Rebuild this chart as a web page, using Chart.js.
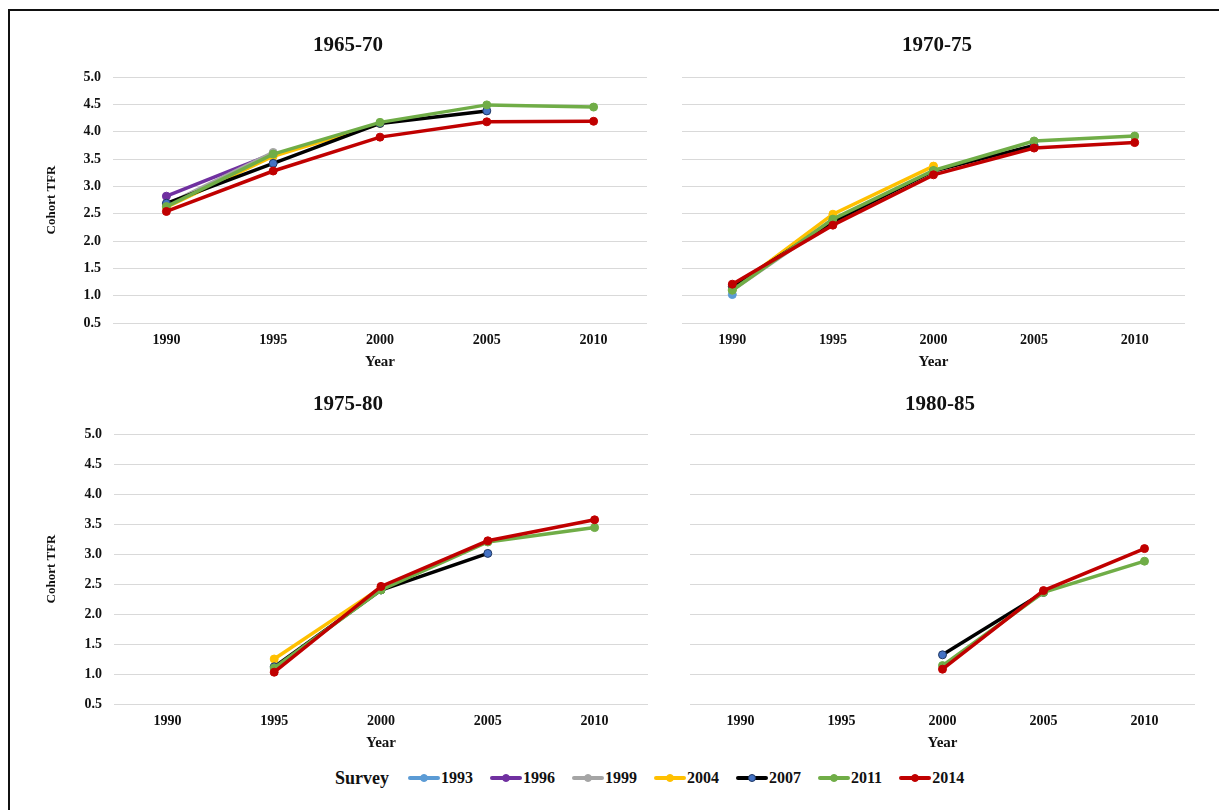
<!DOCTYPE html>
<html>
<head>
<meta charset="utf-8">
<script src="https://cdn.jsdelivr.net/npm/chart.js@4.4.1/dist/chart.umd.min.js"></script>
<style>
html,body{margin:0;padding:0;background:#fff;width:1219px;height:810px;overflow:hidden;font-family:"Liberation Serif","Times New Roman",serif;}
#frame{position:absolute;left:8px;top:9px;width:1400px;height:1000px;border:2px solid #111;box-sizing:border-box;}
.panel{position:absolute;}
#legend{position:absolute;left:335px;top:766px;height:24px;display:flex;align-items:center;font-weight:bold;color:#111;white-space:nowrap;}
#legend .ttl{font-size:18px;margin-right:19px;}
#legend .item{display:flex;align-items:center;margin-right:17px;font-size:16px;}
#legend .ln{position:relative;width:32px;height:4px;border-radius:2px;margin-right:1px;}
#legend .dot{position:absolute;left:12px;top:-2px;width:8px;height:8px;border-radius:50%;box-sizing:border-box;}
</style>
</head>
<body>
<div id="frame"></div>
<canvas id="c1" class="panel" width="624" height="353" style="left:36px;top:22px"></canvas>
<canvas id="c2" class="panel" width="526" height="353" style="left:674px;top:22px"></canvas>
<canvas id="c3" class="panel" width="624" height="377" style="left:36px;top:379px"></canvas>
<canvas id="c4" class="panel" width="530" height="377" style="left:675px;top:379px"></canvas>
<div id="legend"></div>
<script>
// ---------- data ----------
const years = ['1990', '1995', '2000', '2005', '2010'];
const surveys = ['1993', '1996', '1999', '2004', '2007', '2011', '2014'];
const yTicks = [0.5, 1.0, 1.5, 2.0, 2.5, 3.0, 3.5, 4.0, 4.5, 5.0];

// values per survey, in the order of `surveys` (null = no value)
const cohort1965_70 = [
  [2.66, null, null, null, null],
  [2.82, 3.60, null, null, null],
  [2.66, 3.62, null, null, null],
  [2.62, 3.55, 4.15, null, null],
  [2.69, 3.42, 4.15, 4.38, null],
  [2.63, 3.59, 4.17, 4.49, 4.45],
  [2.54, 3.28, 3.90, 4.18, 4.19]
];
const cohort1970_75 = [
  [1.02, null, null, null, null],
  [1.12, 2.38, null, null, null],
  [1.10, 2.37, null, null, null],
  [1.12, 2.49, 3.37, null, null],
  [1.17, 2.35, 3.28, 3.75, null],
  [1.10, 2.40, 3.29, 3.83, 3.92],
  [1.21, 2.29, 3.21, 3.70, 3.80]
];
const cohort1975_80 = [
  [null, null, null, null, null],
  [null, null, null, null, null],
  [null, null, null, null, null],
  [null, 1.25, 2.44, null, null],
  [null, 1.12, 2.40, 3.01, null],
  [null, 1.10, 2.40, 3.20, 3.44],
  [null, 1.03, 2.46, 3.22, 3.57]
];
const cohort1980_85 = [
  [null, null, null, null, null],
  [null, null, null, null, null],
  [null, null, null, null, null],
  [null, null, null, null, null],
  [null, null, 1.32, 2.36, null],
  [null, null, 1.14, 2.36, 2.88],
  [null, null, 1.08, 2.39, 3.09]
];

// ---------- styles ----------
const lineColors  = ['#5B9BD5', '#7030A0', '#A5A5A5', '#FFC000', '#000000', '#70AD47', '#C00000'];
const pointFill   = ['#5B9BD5', '#7030A0', '#A5A5A5', '#FFC000', '#4472C4', '#70AD47', '#C00000'];
const pointBorder = ['#5B9BD5', '#7030A0', '#A5A5A5', '#FFC000', '#1F3864', '#70AD47', '#C00000'];
const FONT = '"Liberation Serif", "Times New Roman", serif';

const panelTitle = {
  id: 'panelTitle',
  afterDraw(chart, args, opts) {
    const ctx = chart.ctx;
    ctx.save();
    ctx.font = 'bold 21px ' + FONT;
    ctx.fillStyle = '#111';
    ctx.textAlign = 'center';
    ctx.textBaseline = 'middle';
    ctx.fillText(opts.text, opts.x, opts.y);
    ctx.restore();
  }
};

function makePanel(id, title, values, geo) {
  const datasets = surveys.map((s, i) => ({
    label: s,
    data: values[i],
    borderColor: lineColors[i],
    backgroundColor: pointFill[i],
    pointBackgroundColor: pointFill[i],
    pointBorderColor: pointBorder[i],
    pointBorderWidth: 1,
    pointRadius: 4,
    borderWidth: 3.5,
    tension: 0,
    spanGaps: false,
    order: surveys.length - i
  }));
  new Chart(document.getElementById(id), {
    type: 'line',
    data: { labels: years, datasets },
    plugins: [panelTitle],
    options: {
      responsive: false,
      animation: false,
      devicePixelRatio: 1,
      layout: { padding: { top: 55, right: geo.padRight, left: 0, bottom: 0 } },
      plugins: {
        legend: { display: false },
        tooltip: { enabled: false },
        panelTitle: { text: title, x: geo.tx, y: geo.ty }
      },
      scales: {
        x: {
          type: 'category',
          offset: true,
          grid: { display: false, drawTicks: false },
          border: { display: false },
          ticks: { color: '#111', padding: 9, font: { family: FONT, size: 14, weight: 'bold' }, maxRotation: 0 },
          title: { display: true, text: 'Year', color: '#111', padding: { top: 0, bottom: 4 }, font: { family: FONT, size: 15, weight: 'bold' } },
          afterFit: (s) => { s.height = 52; }
        },
        y: {
          min: 0.5,
          max: 5.0,
          afterBuildTicks: (s) => { s.ticks = yTicks.map(v => ({ value: v })); },
          grid: { color: '#D9D9D9', lineWidth: 1, drawTicks: false },
          border: { display: false },
          ticks: {
            display: geo.showY,
            color: '#111',
            padding: 12,
            font: { family: FONT, size: 14, weight: 'bold' },
            callback: (v) => Number(v).toFixed(1)
          },
          title: { display: geo.showY, text: 'Cohort TFR', color: '#111', padding: { top: 8, bottom: 0 }, font: { family: FONT, size: 13, weight: 'bold' } },
          afterFit: (s) => { s.width = geo.yW; }
        }
      }
    }
  });
}

makePanel('c1', '1965-70', cohort1965_70, { yW: 77, padRight: 13, tx: 312, ty: 24, showY: true });
makePanel('c2', '1970-75', cohort1970_75, { yW: 8,  padRight: 15, tx: 263, ty: 24, showY: false });
makePanel('c3', '1975-80', cohort1975_80, { yW: 78, padRight: 12, tx: 312, ty: 26, showY: true });
makePanel('c4', '1980-85', cohort1980_85, { yW: 15, padRight: 10, tx: 265, ty: 26, showY: false });

// ---------- legend ----------
const legend = document.getElementById('legend');
const t = document.createElement('span');
t.className = 'ttl';
t.textContent = 'Survey';
legend.appendChild(t);
surveys.forEach((s, i) => {
  const item = document.createElement('span');
  item.className = 'item';
  const ln = document.createElement('span');
  ln.className = 'ln';
  ln.style.background = lineColors[i];
  const dot = document.createElement('span');
  dot.className = 'dot';
  dot.style.background = pointFill[i];
  dot.style.border = '1px solid ' + pointBorder[i];
  ln.appendChild(dot);
  const txt = document.createElement('span');
  txt.textContent = s;
  item.appendChild(ln);
  item.appendChild(txt);
  legend.appendChild(item);
});
</script>
</body>
</html>
